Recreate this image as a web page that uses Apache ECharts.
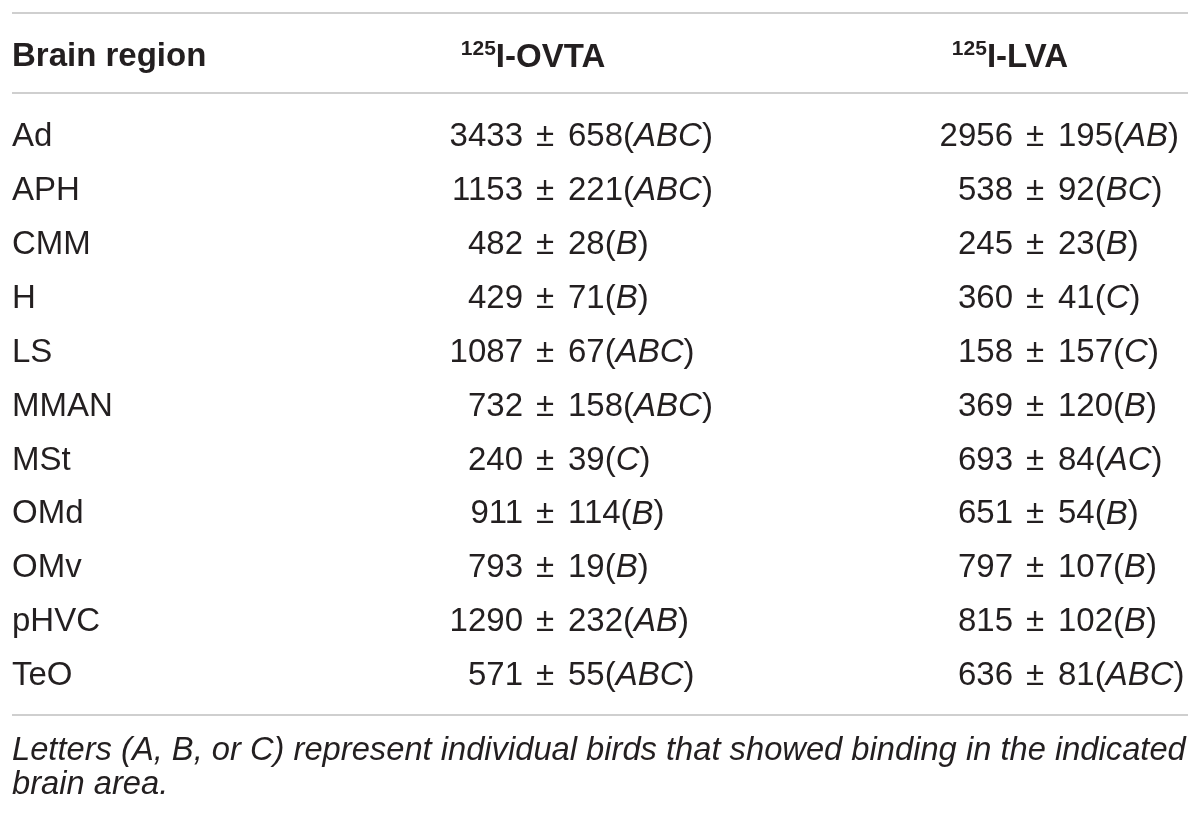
<!DOCTYPE html>
<html>
<head>
<meta charset="utf-8">
<script src="https://cdn.jsdelivr.net/npm/echarts@6/dist/echarts.min.js"></script>
<style>
html,body{margin:0;padding:0;background:#fff;}
#main{width:1200px;height:815px;}
</style>
</head>
<body>
<div id="main"></div>
<script>
// ---- data ----
const regions = ['Ad', 'APH', 'CMM', 'H', 'LS', 'MMAN', 'MSt', 'OMd', 'OMv', 'pHVC', 'TeO'];
const columns = ['OVTA', 'LVA'];
const ovtaMean = [3433, 1153, 482, 429, 1087, 732, 240, 911, 793, 1290, 571];
const ovtaSD = [658, 221, 28, 71, 67, 158, 39, 114, 19, 232, 55];
const ovtaBirds = ['ABC', 'ABC', 'B', 'B', 'ABC', 'ABC', 'C', 'B', 'B', 'AB', 'ABC'];
const lvaMean = [2956, 538, 245, 360, 158, 369, 693, 651, 797, 815, 636];
const lvaSD = [195, 92, 23, 41, 157, 120, 84, 54, 107, 102, 81];
const lvaBirds = ['AB', 'BC', 'B', 'C', 'C', 'B', 'AC', 'B', 'B', 'B', 'ABC'];
const headerFirst = 'Brain region';
const footnote = 'Letters (A, B, or C) represent individual birds that showed binding in the indicated\nbrain area.';

// ---- build cells ----
const cells = [];
const cellInfo = [];
regions.forEach(function (r, i) {
  cells.push([columns[0], r]);
  cellInfo.push({ mean: ovtaMean[i], sd: ovtaSD[i], birds: ovtaBirds[i] });
  cells.push([columns[1], r]);
  cellInfo.push({ mean: lvaMean[i], sd: lvaSD[i], birds: lvaBirds[i] });
});

const FONT = 'Liberation Sans, Arial, Helvetica, sans-serif';
const TXT = '#231f20';
const RULE = '#cfcfcf';
const FS = 33;

const chart = echarts.init(document.getElementById('main'), null, { renderer: 'canvas' });

chart.setOption({
  backgroundColor: '#ffffff',
  animation: false,
  grid: { left: 545, right: 165, top: 110, height: 593 },
  xAxis: {
    type: 'category',
    position: 'top',
    boundaryGap: false,
    data: [
      { value: columns[0], textStyle: { padding: [0, 24, 0, 0] } },
      { value: columns[1], textStyle: { padding: [0, 50, 0, 0] } }
    ],
    axisLine: { show: false },
    axisTick: { show: false },
    splitLine: { show: false },
    axisLabel: {
      margin: 33,
      interval: 0,
      verticalAlign: 'middle',
      formatter: function (v) { return '{sup|125}{b|I-' + v + '}'; },
      rich: {
        sup: { fontFamily: FONT, fontWeight: 'bold', fontSize: 21, color: TXT, verticalAlign: 'top', lineHeight: 38 },
        b: { fontFamily: FONT, fontWeight: 'bold', fontSize: FS, color: TXT, lineHeight: 38 }
      }
    }
  },
  yAxis: {
    type: 'category',
    inverse: true,
    data: regions,
    axisLine: { show: false },
    axisTick: { show: false },
    splitLine: { show: false },
    axisLabel: {
      margin: 533,
      align: 'left',
      fontFamily: FONT,
      fontSize: FS,
      color: TXT
    }
  },
  series: [{
    type: 'custom',
    coordinateSystem: 'cartesian2d',
    data: cells,
    clip: false,
    renderItem: function (params, api) {
      const p = api.coord([api.value(0), api.value(1)]);
      const c = cellInfo[params.dataIndex];
      const base = { fontFamily: FONT, fontSize: FS, fill: TXT, verticalAlign: 'middle' };
      return {
        type: 'group',
        children: [
          { type: 'text', style: Object.assign({}, base, { text: String(c.mean), x: p[0] - 22, y: p[1], align: 'right' }) },
          { type: 'text', style: Object.assign({}, base, { text: '\u00b1', x: p[0], y: p[1], align: 'center' }) },
          {
            type: 'text',
            style: Object.assign({}, base, {
              text: c.sd + '({i|' + c.birds + '})',
              x: p[0] + 23, y: p[1], align: 'left',
              rich: { i: { fontFamily: FONT, fontSize: FS, fontStyle: 'italic', fill: TXT, color: TXT } }
            })
          }
        ]
      };
    }
  }],
  graphic: [
    { type: 'line', shape: { x1: 12, y1: 13, x2: 1188, y2: 13 }, style: { stroke: RULE, lineWidth: 2 } },
    { type: 'line', shape: { x1: 12, y1: 93, x2: 1188, y2: 93 }, style: { stroke: RULE, lineWidth: 2 } },
    { type: 'line', shape: { x1: 12, y1: 715, x2: 1188, y2: 715 }, style: { stroke: RULE, lineWidth: 2 } },
    { type: 'text', left: 12, top: 40, style: { text: headerFirst, fontFamily: FONT, fontWeight: 'bold', fontSize: FS, fill: TXT } },
    { type: 'text', left: 12, top: 734, style: { text: footnote, fontFamily: FONT, fontStyle: 'italic', fontSize: 32.7, lineHeight: 34, fill: TXT } }
  ]
});
</script>
</body>
</html>
